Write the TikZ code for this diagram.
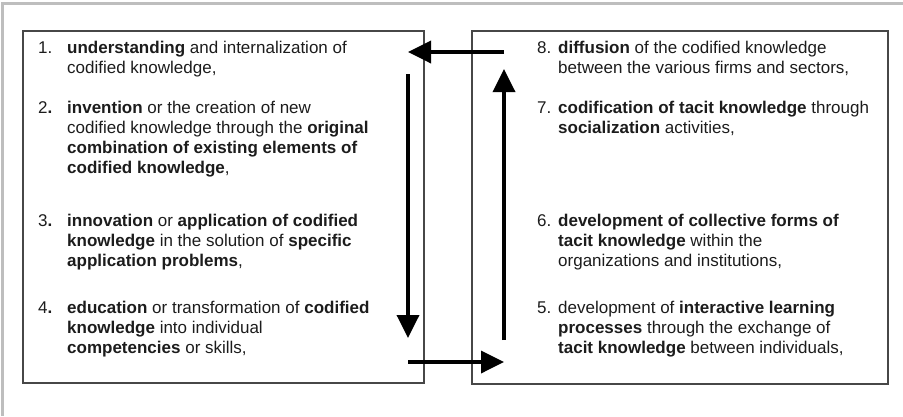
\documentclass[tikz,border=0pt]{standalone}
\usepackage{fontspec}
\setmainfont{Liberation Sans}
\usepackage{tikz}
\usetikzlibrary{arrows.meta,positioning}
\definecolor{FrameGray}{HTML}{BEBEBE}
\definecolor{PanelGray}{HTML}{474747}
\definecolor{InkBlack}{HTML}{1C1C1C}
\newcommand{\codeditem}[2]{\makebox[29pt][l]{#1}\parbox[t]{380pt}{\raggedright #2}}
\newcommand{\tacititem}[2]{\makebox[21pt][l]{#1}\parbox[t]{380pt}{\raggedright #2}}

\begin{document}
\begin{tikzpicture}[x=1pt,y=-1pt,
    stage/.style={anchor=base west,inner sep=0pt,text=InkBlack,
      font=\fontsize{17}{20.3}\selectfont},
    panel/.style={draw=PanelGray,line width=1.1pt,inner sep=0pt},
    flow/.style={line width=3.6pt,-{Triangle[length=23pt,width=22pt]}}]
  \useasboundingbox (0,0) rectangle (903,416);
  \draw[FrameGray,line width=3pt] (2.5,416) -- (2.5,3.5) -- (903,3.5);
  \node[panel,minimum width=401pt,minimum height=352pt] (codified) at (223.5,207) {};
  \node[panel,minimum width=416pt,minimum height=353pt] (tacit) at (680,207.5) {};

  \node[stage] (understanding) at (38,53)
  {\codeditem{1.}{\textbf{understanding} and internalization of\\
      codified knowledge,}};
  \node[stage] (invention) at (38,113)
  {\codeditem{2\textbf{.}}{\textbf{invention} or the creation of new\\
      codified knowledge through the \textbf{original}\\
      \textbf{combination of existing elements of}\\
      \textbf{codified knowledge},}};
  \node[stage] (innovation) at (38,226)
  {\codeditem{3\textbf{.}}{\textbf{innovation} or \textbf{application of codified}\\
      \textbf{knowledge} in the solution of \textbf{specific}\\
      \textbf{application problems},}};
  \node[stage] (education) at (38,313)
  {\codeditem{4\textbf{.}}{\textbf{education} or transformation of \textbf{codified}\\
      \textbf{knowledge} into individual\\
      \textbf{competencies} or skills,}};

  \node[stage] (diffusion) at (537,53)
  {\tacititem{8.}{\textbf{diffusion} of the codified knowledge\\
      between the various firms and sectors,}};
  \node[stage] (codification) at (537,113)
  {\tacititem{7.}{\textbf{codification of tacit knowledge} through\\
      \textbf{socialization} activities,}};
  \node[stage] (collective) at (537,226)
  {\tacititem{6.}{\textbf{development of collective forms of}\\
      \textbf{tacit knowledge} within the\\
      organizations and institutions,}};
  \node[stage] (interactive) at (537,313)
  {\tacititem{5.}{development of \textbf{interactive learning}\\
      \textbf{processes} through the exchange of\\
      \textbf{tacit knowledge} between individuals,}};

  \coordinate (diffuseout) at (504,52);
  \coordinate (understandin) at (408,52);
  \coordinate (codifiedtop) at (408,74);
  \coordinate (codifiedbot) at (408,338);
  \coordinate (educationout) at (408,362);
  \coordinate (tacitin) at (504,362);
  \coordinate (tacitbot) at (504,340);
  \coordinate (tacittop) at (504,69);
  \draw[flow] (diffuseout) -- (understandin);
  \draw[flow] (codifiedtop) -- (codifiedbot);
  \draw[flow] (educationout) -- (tacitin);
  \draw[flow] (tacitbot) -- (tacittop);
\end{tikzpicture}
\end{document}
